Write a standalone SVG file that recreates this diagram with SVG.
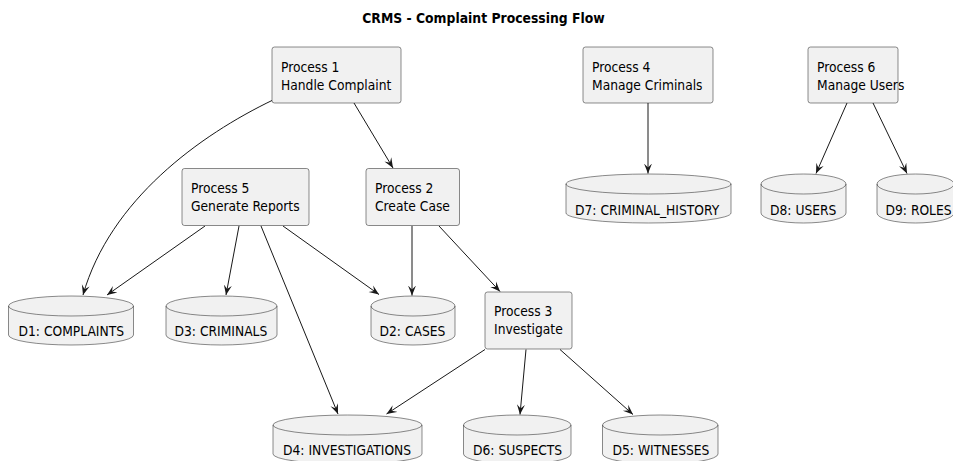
<svg xmlns="http://www.w3.org/2000/svg" width="953" height="461" viewBox="0 0 953 461">
<style>
.box{fill:#F1F1F1;stroke:#181818;stroke-width:0.5}
.db{fill:#F1F1F1;stroke:#181818;stroke-width:0.5}
.in{fill:none;stroke:#181818;stroke-width:0.5}
.t{font-family:"DejaVu Sans Condensed","DejaVu Sans",sans-serif;font-stretch:condensed;font-size:13.7px;fill:#000}
.title{font-family:"DejaVu Sans Condensed","DejaVu Sans",sans-serif;font-stretch:condensed;font-size:13.8px;font-weight:bold;fill:#000}
.e{fill:none;stroke:#181818;stroke-width:1}
</style>
<defs>
<marker id="ah" viewBox="0 0 10 10" refX="10" refY="5" markerWidth="10" markerHeight="10" markerUnits="userSpaceOnUse" orient="auto">
<path d="M10,5 L0,1 L4,5 L0,9 Z" fill="#181818"/>
</marker>
</defs>
<rect width="953" height="461" fill="#FFFFFF"/>
<text class="title" x="483.5" y="23" text-anchor="middle">CRMS - Complaint Processing Flow</text>

<g id="edges">
<path class="e" marker-end="url(#ah)" d="M273,100 C200,135 110,200 83,295"/>
<path class="e" marker-end="url(#ah)" d="M354,103 L393,168"/>
<path class="e" marker-end="url(#ah)" d="M205,226 L107,295"/>
<path class="e" marker-end="url(#ah)" d="M239,226 L226,295"/>
<path class="e" marker-end="url(#ah)" d="M261,226 L338,414"/>
<path class="e" marker-end="url(#ah)" d="M283,226 L379,294.5"/>
<path class="e" marker-end="url(#ah)" d="M412,226 L412,295.5"/>
<path class="e" marker-end="url(#ah)" d="M439,226 L500,291.5"/>
<path class="e" marker-end="url(#ah)" d="M485,349.5 L386.5,414"/>
<path class="e" marker-end="url(#ah)" d="M526,349.5 L520,414.5"/>
<path class="e" marker-end="url(#ah)" d="M560,349.5 L633,414.5"/>
<path class="e" marker-end="url(#ah)" d="M648,103 L648,173.5"/>
<path class="e" marker-end="url(#ah)" d="M847,103 L816,173.5"/>
<path class="e" marker-end="url(#ah)" d="M873,103 L907,173.5"/>
</g>

<g id="P1"><rect class="box" x="272" y="47" width="129" height="56" rx="2.5"/>
<text class="t" x="281" y="71.5">Process 1</text><text class="t" x="281" y="89.5">Handle Complaint</text></g>
<g id="P4"><rect class="box" x="583" y="47" width="130" height="56" rx="2.5"/>
<text class="t" x="592" y="71.5">Process 4</text><text class="t" x="592" y="89.5">Manage Criminals</text></g>
<g id="P6"><rect class="box" x="808" y="47" width="90" height="56" rx="2.5"/>
<text class="t" x="817" y="71.5">Process 6</text><text class="t" x="817" y="89.5">Manage Users</text></g>
<g id="P5"><rect class="box" x="182" y="168.5" width="127" height="57" rx="2.5"/>
<text class="t" x="191" y="193">Process 5</text><text class="t" x="191" y="211">Generate Reports</text></g>
<g id="P2"><rect class="box" x="366" y="168.5" width="93.5" height="57" rx="2.5"/>
<text class="t" x="375" y="193">Process 2</text><text class="t" x="375" y="211">Create Case</text></g>
<g id="P3"><rect class="box" x="485" y="292" width="87" height="57" rx="2.5"/>
<text class="t" x="494" y="316">Process 3</text><text class="t" x="494" y="334">Investigate</text></g>

<g id="D7"><path class="db" d="M566,184 A82.5,10 0 0 1 731,184 L731,213 A82.5,10 0 0 1 566,213 Z"/><path class="in" d="M566,184 A82.5,10 0 0 0 731,184"/>
<text class="t" x="575" y="214.5">D7: CRIMINAL_HISTORY</text></g>
<g id="D8"><path class="db" d="M761,184 A42.5,10 0 0 1 846,184 L846,213 A42.5,10 0 0 1 761,213 Z"/><path class="in" d="M761,184 A42.5,10 0 0 0 846,184"/>
<text class="t" x="770" y="214.5">D8: USERS</text></g>
<g id="D9"><path class="db" d="M877,184 A38.5,10 0 0 1 954,184 L954,213 A38.5,10 0 0 1 877,213 Z"/><path class="in" d="M877,184 A38.5,10 0 0 0 954,184"/>
<text class="t" x="885.5" y="214.5">D9: ROLES</text></g>

<g id="D1"><path class="db" d="M8.5,306 A62.5,10 0 0 1 133.5,306 L133.5,335 A62.5,10 0 0 1 8.5,335 Z"/><path class="in" d="M8.5,306 A62.5,10 0 0 0 133.5,306"/>
<text class="t" x="18.5" y="336">D1: COMPLAINTS</text></g>
<g id="D3"><path class="db" d="M166,306 A55.5,10 0 0 1 277,306 L277,335 A55.5,10 0 0 1 166,335 Z"/><path class="in" d="M166,306 A55.5,10 0 0 0 277,306"/>
<text class="t" x="174.5" y="336">D3: CRIMINALS</text></g>
<g id="D2"><path class="db" d="M371,306 A42,10 0 0 1 455,306 L455,335 A42,10 0 0 1 371,335 Z"/><path class="in" d="M371,306 A42,10 0 0 0 455,306"/>
<text class="t" x="379.5" y="336">D2: CASES</text></g>

<g id="D4"><path class="db" d="M273,425 A74.5,10 0 0 1 422,425 L422,454 A74.5,10 0 0 1 273,454 Z"/><path class="in" d="M273,425 A74.5,10 0 0 0 422,425"/>
<text class="t" x="283" y="455">D4: INVESTIGATIONS</text></g>
<g id="D6"><path class="db" d="M463.5,425 A53.75,10 0 0 1 571,425 L571,454 A53.75,10 0 0 1 463.5,454 Z"/><path class="in" d="M463.5,425 A53.75,10 0 0 0 571,425"/>
<text class="t" x="473" y="455">D6: SUSPECTS</text></g>
<g id="D5"><path class="db" d="M602.5,425 A57.75,10 0 0 1 718,425 L718,454 A57.75,10 0 0 1 602.5,454 Z"/><path class="in" d="M602.5,425 A57.75,10 0 0 0 718,425"/>
<text class="t" x="612.5" y="455">D5: WITNESSES</text></g>
</svg>
